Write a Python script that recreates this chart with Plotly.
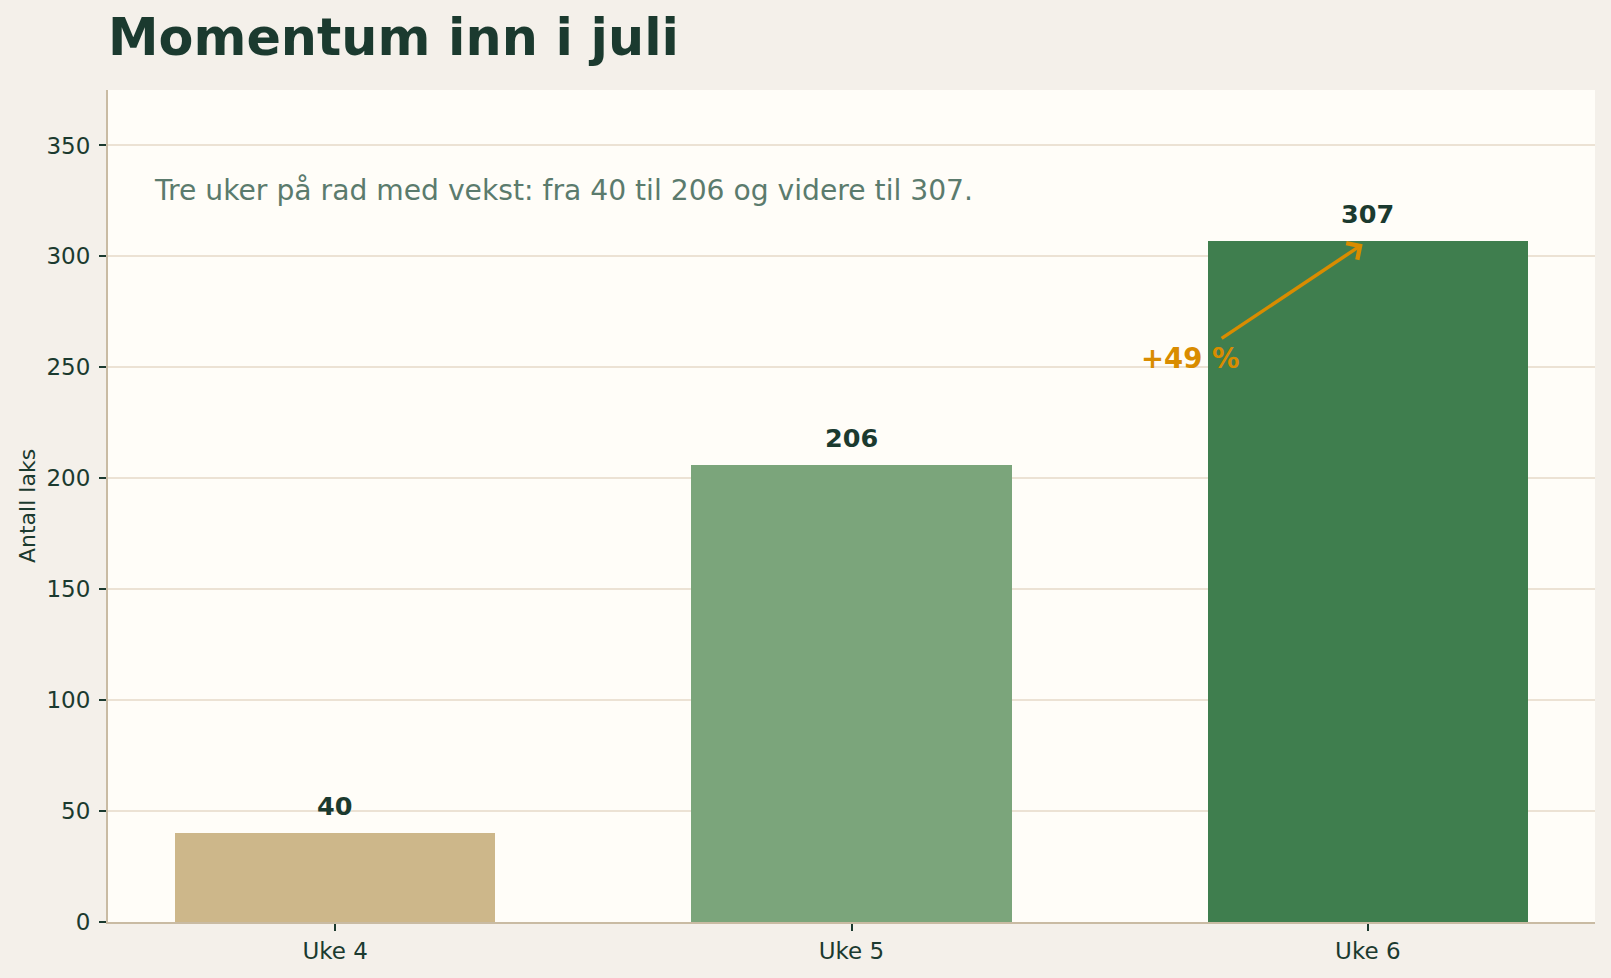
import plotly.graph_objects as go

categories = ["Uke 4", "Uke 5", "Uke 6"]
values = [40, 206, 307]
bar_colors = ["#CDB78A", "#7BA57B", "#3F7E4E"]
y_ticks = [0, 50, 100, 150, 200, 250, 300, 350]

title_text = "Momentum inn i juli"
subtitle_text = "Tre uker på rad med vekst: fra 40 til 206 og videre til 307."
y_title = "Antall laks"
growth_text = "+49 %"

DARK = "#1B3A2F"
ORANGE = "#D98C00"
FONT = "DejaVu Sans"

W, H = 1611, 978
ml, mr, mt, mb = 108, 15.5, 90, 56.4
pw = W - ml - mr
ph = H - mt - mb

fig = go.Figure()
fig.add_trace(go.Bar(
    x=list(range(len(categories))), y=values,
    marker=dict(color=bar_colors, line=dict(width=0)),
    width=0.62, hoverinfo="skip",
))

annotations = []
for i, v in enumerate(values):
    annotations.append(dict(
        x=i, y=v, xref="x", yref="y", text=f"<b>{v}</b>", showarrow=False,
        yshift=27, font=dict(family=FONT, size=25.5, color=DARK),
        xanchor="center", yanchor="middle",
    ))

# arrow
annotations.append(dict(
    x=1.99, y=305.5, ax=1.714, ay=262.6, xref="x", yref="y", axref="x", ayref="y",
    text="", showarrow=True, arrowhead=4, arrowsize=1.1, arrowwidth=3.5,
    arrowcolor=ORANGE, standoff=0, startstandoff=0,
))
annotations.append(dict(
    x=1.655, y=254.2, xref="x", yref="y", text=f"<b>{growth_text}</b>",
    showarrow=False, font=dict(family=FONT, size=27.5, color=ORANGE),
    xanchor="center", yanchor="middle",
))
# subtitle
annotations.append(dict(
    x=(152 - ml) / pw, y=1 - (190 - mt) / ph, xref="paper", yref="paper",
    text=subtitle_text, showarrow=False,
    font=dict(family=FONT, size=28.2, color="#5B7B6D"),
    xanchor="left", yanchor="middle",
))
# y axis title
annotations.append(dict(
    x=0, y=0.5, xref="paper", yref="paper", text=y_title, textangle=-90,
    showarrow=False, xshift=-81, font=dict(family=FONT, size=22, color=DARK),
    xanchor="center", yanchor="middle",
))

fig.update_layout(
    width=W, height=H,
    margin=dict(l=ml, r=mr, t=mt, b=mb, pad=0),
    paper_bgcolor="#F4F0EA", plot_bgcolor="#FFFDF8",
    showlegend=False, bargap=0,
    title=dict(text=f"<b>{title_text}</b>", x=108 / W, xanchor="left",
               xref="container", y=1 - 37 / H, yanchor="middle", yref="container",
               font=dict(family=FONT, size=50.8, color=DARK)),
    font=dict(family=FONT, color=DARK),
    annotations=annotations,
    xaxis=dict(
        range=[-0.44, 2.44], tickmode="array", tickvals=list(range(len(categories))),
        ticktext=categories, showgrid=False, zeroline=False,
        showline=True, linecolor="#C9BBA3", linewidth=2,
        ticks="outside", ticklen=7, tickwidth=1.5, tickcolor=DARK,
        tickfont=dict(family=FONT, size=23, color=DARK), fixedrange=True,
        ticklabelstandoff=0,
    ),
    yaxis=dict(
        range=[0, 375], tickmode="array", tickvals=y_ticks,
        showgrid=True, gridcolor="#ECE2D4", gridwidth=1.5, zeroline=False,
        showline=True, linecolor="#C9BBA3", linewidth=2,
        ticks="outside", ticklen=7, tickwidth=1.5, tickcolor=DARK,
        tickfont=dict(family=FONT, size=23, color=DARK), fixedrange=True,
        ticklabelstandoff=4,
    ),
)

fig.write_html("out.html", config={"displayModeBar": False})
